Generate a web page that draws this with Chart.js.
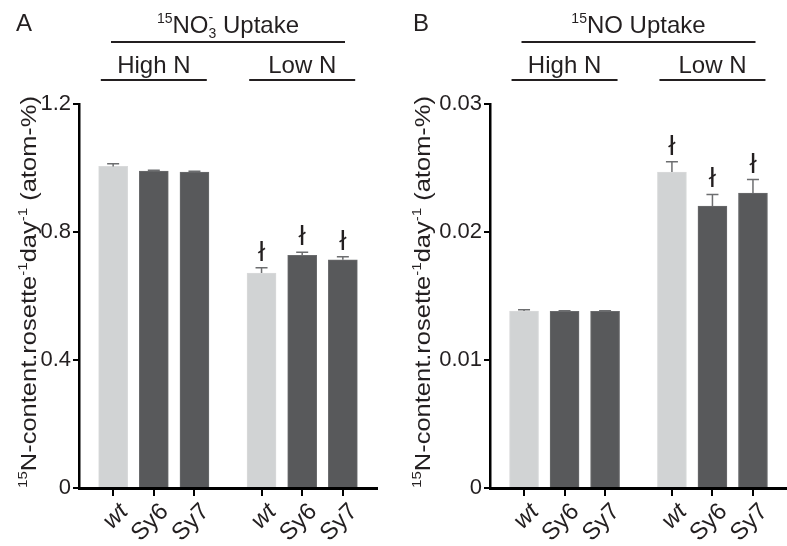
<!DOCTYPE html>
<html>
<head>
<meta charset="utf-8">
<script src="https://cdn.jsdelivr.net/npm/chart.js@4.4.1/dist/chart.umd.min.js"></script>
<style>
  body { margin: 0; background: #fff; width: 787px; height: 546px; position: relative; overflow: hidden; }
  .panel { position: absolute; top: 0; height: 546px; }
  #wrapA { left: 0; width: 393px; }
  #wrapB { left: 395px; width: 392px; }
</style>
</head>
<body>
<div class="panel" id="wrapA"><canvas id="chartA"></canvas></div>
<div class="panel" id="wrapB"><canvas id="chartB"></canvas></div>
<script>
// --- 1. DATA ---
const genotypes = ['wt', 'Sy6', 'Sy7'];
const treatments = ['High N', 'Low N'];

// panel A: 15NO3- uptake
const nitrateMeans = [1.005, 0.990, 0.987, 0.672, 0.727, 0.713];
const nitrateErrors = [0.008, 0.003, 0.003, 0.016, 0.010, 0.010];
const nitrateSig = [false, false, false, true, true, true];
const nitrateTicks = [0, 0.4, 0.8, 1.2];

// panel B: 15NO uptake
const noMeans = [0.01383, 0.01380, 0.01381, 0.02469, 0.02203, 0.02305];
const noErrors = [0.00010, 0.00004, 0.00004, 0.00080, 0.00090, 0.00105];
const noSig = [false, false, false, true, true, true];
const noTicks = [0, 0.01, 0.02, 0.03];

// --- 2. LAYOUT / STYLE ---
const FONT = '"Liberation Sans", Arial, sans-serif';
const INK = '#231f20';
const groupGap = 1.65; // extra space between High N and Low N groups, in bar slots
const xPos = treatments.flatMap((t, g) => genotypes.map((n, i) => g * (genotypes.length - 1 + groupGap) + i));
const xLabels = treatments.flatMap(() => genotypes);
const barColors = xLabels.map(n => n === 'wt' ? '#d1d3d4' : '#58595b');

// draws a row of text pieces (normal / super / subscript) centred on cx
function layoutRuns(ctx, runs) {
  let x = 0, held = 0;
  const items = [];
  runs.forEach(r => {
    ctx.font = r.size + 'px ' + FONT;
    const w = ctx.measureText(r.t).width;
    items.push({ ...r, x });
    if (r.hold) held = Math.max(held, w);
    else { x += Math.max(w, held); held = 0; }
  });
  return { items, width: x };
}

function drawRuns(ctx, runs, cx, baseline, stretch) {
  const lay = layoutRuns(ctx, runs);
  const k = stretch ? stretch / lay.width : 1;
  ctx.save();
  ctx.translate(cx, baseline);
  ctx.scale(k, 1);
  ctx.textAlign = 'left';
  ctx.textBaseline = 'alphabetic';
  ctx.fillStyle = INK;
  lay.items.forEach(it => {
    ctx.font = it.size + 'px ' + FONT;
    ctx.fillText(it.t, it.x - lay.width / 2, it.dy || 0);
  });
  ctx.restore();
}

function hLine(ctx, x1, x2, y) {
  ctx.beginPath();
  ctx.moveTo(x1, y);
  ctx.lineTo(x2, y);
  ctx.stroke();
}

// error bars, significance marks, headers, x labels and axis title
const panelPlugin = {
  id: 'panelDecor',
  afterDatasetsDraw(chart) {
    const cfg = chart.options.plugins.panelDecor;
    const ctx = chart.ctx;
    const yScale = chart.scales.y;
    const meta = chart.getDatasetMeta(0);
    ctx.save();
    meta.data.forEach((bar, i) => {
      const top = yScale.getPixelForValue(cfg.means[i] + cfg.errors[i]);
      ctx.strokeStyle = '#6d6e70';
      ctx.lineWidth = 1.5;
      ctx.beginPath();
      ctx.moveTo(bar.x, bar.y);
      ctx.lineTo(bar.x, top);
      ctx.moveTo(bar.x - 6, top);
      ctx.lineTo(bar.x + 6, top);
      ctx.stroke();
      if (cfg.sig[i]) {
        ctx.fillStyle = INK;
        ctx.font = '27px "DejaVu Sans", sans-serif';
        ctx.textAlign = 'center';
        ctx.textBaseline = 'alphabetic';
        ctx.fillText('ł', bar.x, top - 7);
      }
    });
    ctx.restore();
  },
  afterDraw(chart) {
    const cfg = chart.options.plugins.panelDecor;
    const ctx = chart.ctx;
    const xScale = chart.scales.x;
    ctx.save();

    // panel letter
    ctx.fillStyle = INK;
    ctx.font = '24px ' + FONT;
    ctx.textAlign = 'left';
    ctx.fillText(cfg.letter, cfg.letterX, 31);

    // rotated category labels
    xPos.forEach((v, i) => {
      const px = xScale.getPixelForValue(v);
      ctx.save();
      ctx.translate(px + 11, xScale.top + 20);
      ctx.rotate(-Math.PI / 4);
      ctx.font = (xLabels[i] === 'wt' ? 'italic ' : '') + '24px ' + FONT;
      ctx.textAlign = 'right';
      ctx.textBaseline = 'middle';
      ctx.fillStyle = INK;
      ctx.fillText(xLabels[i], 0, 0);
      ctx.restore();
    });

    // group headers
    ctx.strokeStyle = INK;
    ctx.lineWidth = 2;
    const centers = treatments.map((t, g) => {
      const px = genotypes.map((n, i) => xScale.getPixelForValue(xPos[g * genotypes.length + i]));
      return (px[0] + px[px.length - 1]) / 2;
    });
    treatments.forEach((t, g) => {
      drawRuns(ctx, [{ t, size: 24 }], centers[g], 73);
      hLine(ctx, centers[g] - 53, centers[g] + 53, 80);
    });
    const mid = (centers[0] + centers[1]) / 2;
    drawRuns(ctx, cfg.title, mid, 33);
    hLine(ctx, mid - 117, mid + 117, 42);

    // rotated y title
    ctx.translate(cfg.titleX, 292);
    ctx.rotate(-Math.PI / 2);
    drawRuns(ctx, [
      { t: '15', size: 13, dy: -9 },
      { t: 'N-content.rosette', size: 22 },
      { t: '-1', size: 13, dy: -9 },
      { t: 'day', size: 22 },
      { t: '-1', size: 13, dy: -9 },
      { t: ' (atom-%)', size: 22 }
    ], 0, 0, 392);
    ctx.restore();
  }
};

function makeChart(id, means, errors, sig, ticks, opts) {
  return new Chart(document.getElementById(id), {
    type: 'bar',
    data: {
      datasets: [{
        data: means.map((v, i) => ({ x: xPos[i], y: v })),
        backgroundColor: barColors,
        borderColor: barColors.map(c => c === '#58595b' ? '#6a6b6d' : '#d9dadb'),
        borderWidth: 1,
        barThickness: 29
      }]
    },
    options: {
      responsive: true,
      maintainAspectRatio: false,
      animation: false,
      layout: { padding: { top: 104, right: opts.padRight, left: 0, bottom: 0 } },
      scales: {
        x: {
          type: 'linear',
          offset: false,
          min: xPos[0] - 0.84,
          max: xPos[xPos.length - 1] + 0.84,
          afterBuildTicks: scale => { scale.ticks = xPos.map(v => ({ value: v })); },
          afterFit: scale => { scale.height = 58; },
          border: { display: true, color: '#000', width: 3 },
          grid: { display: true, offset: false, drawOnChartArea: false, drawTicks: true, tickLength: 8, color: '#000', lineWidth: 2 },
          ticks: { display: false, autoSkip: false }
        },
        y: {
          min: 0,
          max: ticks[ticks.length - 1],
          afterBuildTicks: scale => { scale.ticks = ticks.map(v => ({ value: v })); },
          afterFit: scale => { scale.width = opts.yWidth; },
          border: { display: true, color: '#000', width: 2.5 },
          grid: { display: true, drawOnChartArea: false, drawTicks: true, tickLength: 6, color: '#000', lineWidth: 2 },
          ticks: {
            padding: 2,
            color: INK,
            font: { family: FONT, size: 22 },
            callback: v => {
              const t = ticks.find(k => Math.abs(k - v) < 1e-9);
              return t === 0 ? '0' : String(t);
            }
          }
        }
      },
      plugins: {
        legend: { display: false },
        tooltip: { enabled: false },
        panelDecor: { means, errors, sig, letter: opts.letter, letterX: opts.letterX, titleX: opts.titleX, title: opts.title }
      }
    },
    plugins: [panelPlugin]
  });
}

// --- 3. CHARTS ---
makeChart('chartA', nitrateMeans, nitrateErrors, nitrateSig, nitrateTicks, {
  padRight: 16, yWidth: 79, letter: 'A', letterX: 16, titleX: 36,
  title: [
    { t: '15', size: 14, dy: -10 },
    { t: 'NO', size: 24 },
    { t: '-', size: 14, dy: -11, hold: true },
    { t: '3', size: 14, dy: 5 },
    { t: ' Uptake', size: 24 }
  ]
});

makeChart('chartB', noMeans, noErrors, noSig, noTicks, {
  padRight: 0, yWidth: 95, letter: 'B', letterX: 18, titleX: 35,
  title: [
    { t: '15', size: 14, dy: -10 },
    { t: 'NO', size: 24 },
    { t: ' Uptake', size: 24 }
  ]
});
</script>
</body>
</html>
